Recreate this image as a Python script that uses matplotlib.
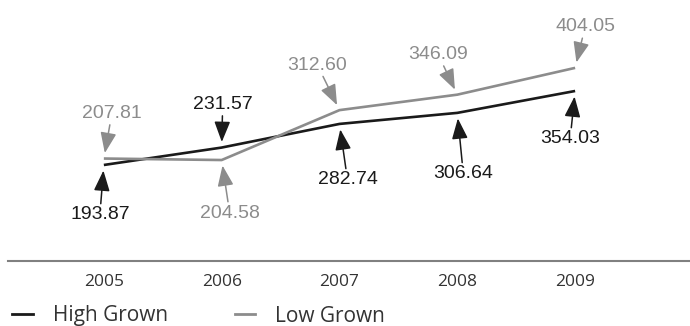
import matplotlib
matplotlib.use("Agg")
import matplotlib.pyplot as plt
from matplotlib.lines import Line2D

years = ["2005", "2006", "2007", "2008", "2009"]
high_grown = [193.87, 231.57, 282.74, 306.64, 354.03]
low_grown = [207.81, 204.58, 312.60, 346.09, 404.05]

HIGH_COLOR = "#1a1a1a"
LOW_COLOR = "#8c8c8c"

# label offsets in pixels (dx, dy) from each point
high_offsets = [(-4, -50), (1, 43), (8, -56), (6, -61), (-5, -48)]
low_offsets = [(8, 45), (8, -53), (-22, 45), (-19, 40), (10, 41)]

fig = plt.figure(figsize=(6.9, 3.26), dpi=100)
ax = fig.add_axes([8 / 690, 1 - 261 / 326, 1 - 8 / 690, 261 / 326])

x = list(range(len(years)))
ax.plot(x, high_grown, color=HIGH_COLOR, lw=1.9, solid_capstyle="butt")
ax.plot(x, low_grown, color=LOW_COLOR, lw=1.9, solid_capstyle="butt")

ax.set_xlim(-0.8136, 4.975)
ax.set_ylim(-14, 551)

label_font = dict(family=["Liberation Sans", "DejaVu Sans"], fontsize=14)


def annotate_series(values, offsets, color):
    for xi, v, (dx, dy) in zip(x, values, offsets):
        ax.annotate(
            f"{v:.2f}",
            xy=(xi, v),
            xytext=(dx, dy),
            textcoords="offset pixels",
            ha="center",
            va="center",
            color=color,
            arrowprops=dict(
                arrowstyle="-|>,head_width=0.35,head_length=0.9",
                color=color,
                lw=1.1,
                shrinkA=0,
                shrinkB=4,
            ),
            **label_font,
        )


annotate_series(high_grown, high_offsets, HIGH_COLOR)
annotate_series(low_grown, low_offsets, LOW_COLOR)

for side in ("top", "right", "left"):
    ax.spines[side].set_visible(False)
ax.spines["bottom"].set_color("#808080")
ax.spines["bottom"].set_linewidth(1.5)
ax.set_yticks([])
ax.set_xticks(x)
ax.set_xticklabels(years, fontsize=12.5, color="#333333", family="Open Sans")
ax.tick_params(axis="x", length=0, pad=9.5)

handles = [
    Line2D([], [], color=HIGH_COLOR, lw=2),
    Line2D([], [], color=LOW_COLOR, lw=2),
]
fig.legend(
    handles,
    ["High Grown", "Low Grown"],
    loc="center left",
    bbox_to_anchor=(12 / 690, 1 - 316 / 326),
    ncol=2,
    frameon=False,
    prop=dict(family="Open Sans", size=15),
    handlelength=1.0,
    handletextpad=0.96,
    columnspacing=3.2,
    borderpad=0,
    borderaxespad=0,
    labelcolor="#333333",
)

fig.savefig("out.png", dpi=100)
